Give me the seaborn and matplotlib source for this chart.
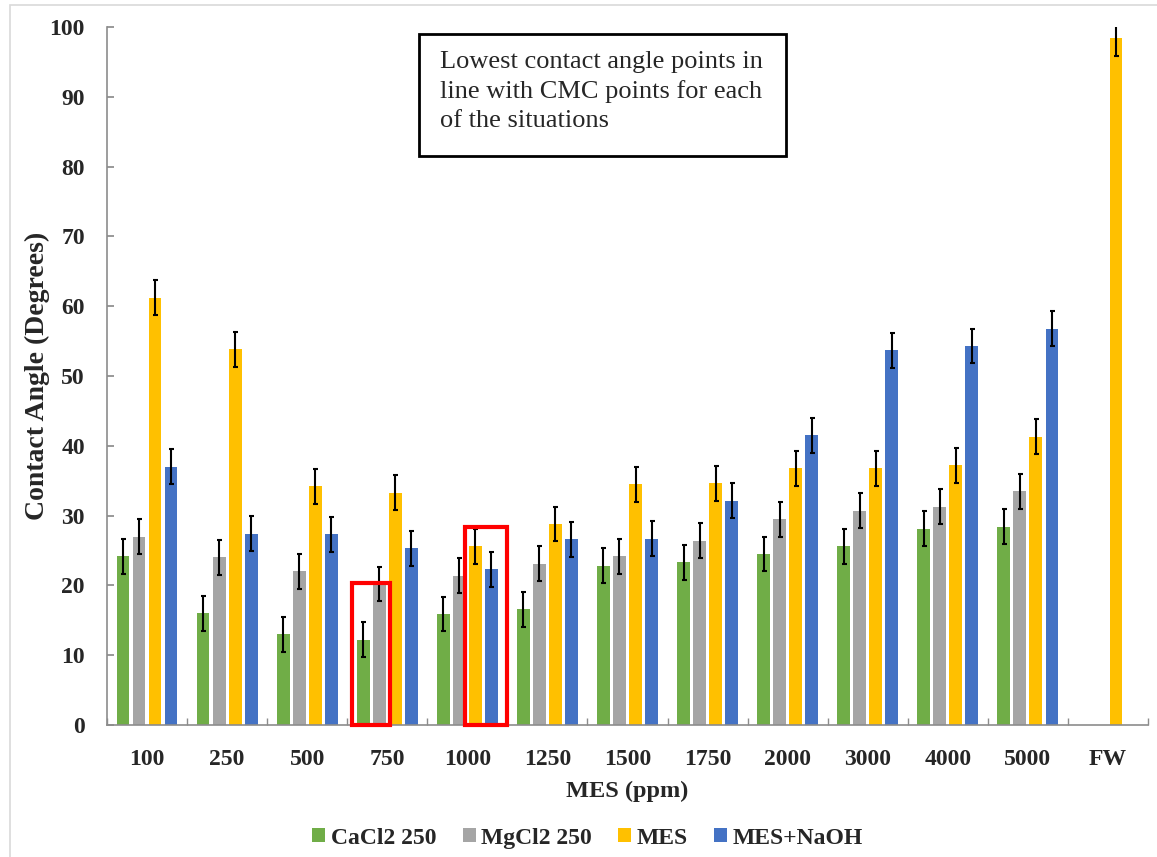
import numpy as np
import pandas as pd
import matplotlib as mpl
mpl.use('Agg')
import matplotlib.pyplot as plt
from matplotlib.container import BarContainer
from matplotlib.patches import Rectangle
import seaborn as sns

# data
concentrations = ['100', '250', '500', '750', '1000', '1250', '1500',
                  '1750', '2000', '3000', '4000', '5000', 'FW']
series = ['CaCl2 250', 'MgCl2 250', 'MES', 'MES+NaOH']

cacl2 = [24.2, 16.0, 13.0, 12.2, 15.9, 16.6, 22.8, 23.3, 24.5, 25.6, 28.1, 28.4, np.nan]
mgcl2 = [27.0, 24.0, 22.0, 20.2, 21.4, 23.1, 24.2, 26.4, 29.5, 30.7, 31.3, 33.5, np.nan]
mes = [61.2, 53.8, 34.2, 33.3, 25.6, 28.8, 34.5, 34.6, 36.8, 36.8, 37.2, 41.3, 98.4]
mes_naoh = [37.0, 27.4, 27.3, 25.3, 22.3, 26.6, 26.7, 32.1, 41.5, 53.7, 54.3, 56.8, np.nan]

err_cacl2 = [2.5] * 13
err_mgcl2 = [2.5] * 13
err_mes = [2.5] * 13
err_mes_naoh = [2.5] * 13

colors = ['#70AD47', '#A5A5A5', '#FFC000', '#4472C4']

values = [cacl2, mgcl2, mes, mes_naoh]
errors = [err_cacl2, err_mgcl2, err_mes, err_mes_naoh]

df = pd.DataFrame({
    'conc': concentrations * 4,
    'series': np.repeat(series, len(concentrations)),
    'angle': np.concatenate(values),
}).dropna()

sns.set_theme(style='ticks')
plt.rcParams['font.family'] = ['Liberation Serif', 'DejaVu Serif']
plt.rcParams['font.weight'] = 'bold'

W, H = 1157, 857
fig = plt.figure(figsize=(W / 100, H / 100), dpi=100)
ax = fig.add_axes([107 / W, 1 - 725 / H, 1041 / W, 698 / H])

sns.barplot(data=df, x='conc', y='angle', hue='series', order=concentrations,
            hue_order=series, palette=colors, width=0.8, gap=0.2,
            errorbar=None, saturation=1, linewidth=0, ax=ax)

# error bars on top of each bar
bar_groups = [c for c in ax.containers if isinstance(c, BarContainer)]
for i, cont in enumerate(bar_groups):
    xs, ys, es = [], [], []
    for bar in cont.patches:
        if bar is None:
            continue
        cx = bar.get_x() + bar.get_width() / 2
        idx = int(round(cx))
        xs.append(cx)
        ys.append(bar.get_height())
        es.append(errors[i][idx])
    ax.errorbar(xs, ys, yerr=es, fmt='none', ecolor='black',
                elinewidth=1.5, capsize=1.8, capthick=1.5, zorder=5)

ax.set_xlim(-0.5, len(concentrations) - 0.5)
ax.set_ylim(0, 100)
ax.set_yticks(range(0, 101, 10))

sns.despine(ax=ax)
for s in ['left', 'bottom']:
    ax.spines[s].set_color('#8c8c8c')
    ax.spines[s].set_linewidth(1.2)

ax.set_xticks(np.arange(-0.5, len(concentrations)), minor=True)
ax.tick_params(axis='x', which='major', length=0, pad=17, labelsize=17)
ax.tick_params(axis='x', which='minor', direction='in', length=5, color='#8c8c8c')
ax.tick_params(axis='y', direction='in', length=5, color='#8c8c8c', pad=16, labelsize=17)
for lab in ax.get_xticklabels() + ax.get_yticklabels():
    lab.set_fontweight('bold')

ax.set_xlabel('MES (ppm)', fontsize=17.5, fontweight='bold')
ax.set_ylabel('Contact Angle (Degrees)', fontsize=20, fontweight='bold')
ax.xaxis.set_label_coords(0.5, -0.08)
ax.yaxis.set_label_coords(-0.055, 0.5)

# red highlight boxes around the lowest points
ax.add_patch(Rectangle((3 - 0.44, 0), 0.47, 20.4, fill=False, edgecolor='#FF0000',
                       linewidth=3, clip_on=False, zorder=6))
ax.add_patch(Rectangle((4 - 0.025, 0), 0.515, 28.3, fill=False, edgecolor='#FF0000',
                       linewidth=3, clip_on=False, zorder=6))

sns.move_legend(ax, 'center', bbox_to_anchor=(0.508, 0.022),
                bbox_transform=fig.transFigure, ncol=4, frameon=False, title=None,
                fontsize=17, handlelength=0.55, handleheight=0.55,
                handletextpad=0.25, columnspacing=1.1)
for t in ax.get_legend().get_texts():
    t.set_fontweight('bold')

# annotation box
fig.patches.append(Rectangle((419 / W, 1 - 156 / H), 367 / W, 122 / H, fill=False,
                             edgecolor='black', linewidth=2, transform=fig.transFigure,
                             figure=fig))
fig.text(440 / W, 1 - 51 / H,
         'Lowest contact angle points in\nline with CMC points for each\nof the situations',
         fontsize=19, fontweight='normal', va='top', ha='left', linespacing=1.4)

# outer chart border
fig.patches.append(Rectangle((10 / W, -0.01), 1.02, 1 - 5 / H + 0.01, fill=False,
                             edgecolor='#d9d9d9', linewidth=1.2,
                             transform=fig.transFigure, figure=fig))

fig.savefig('out.png', dpi=100)
